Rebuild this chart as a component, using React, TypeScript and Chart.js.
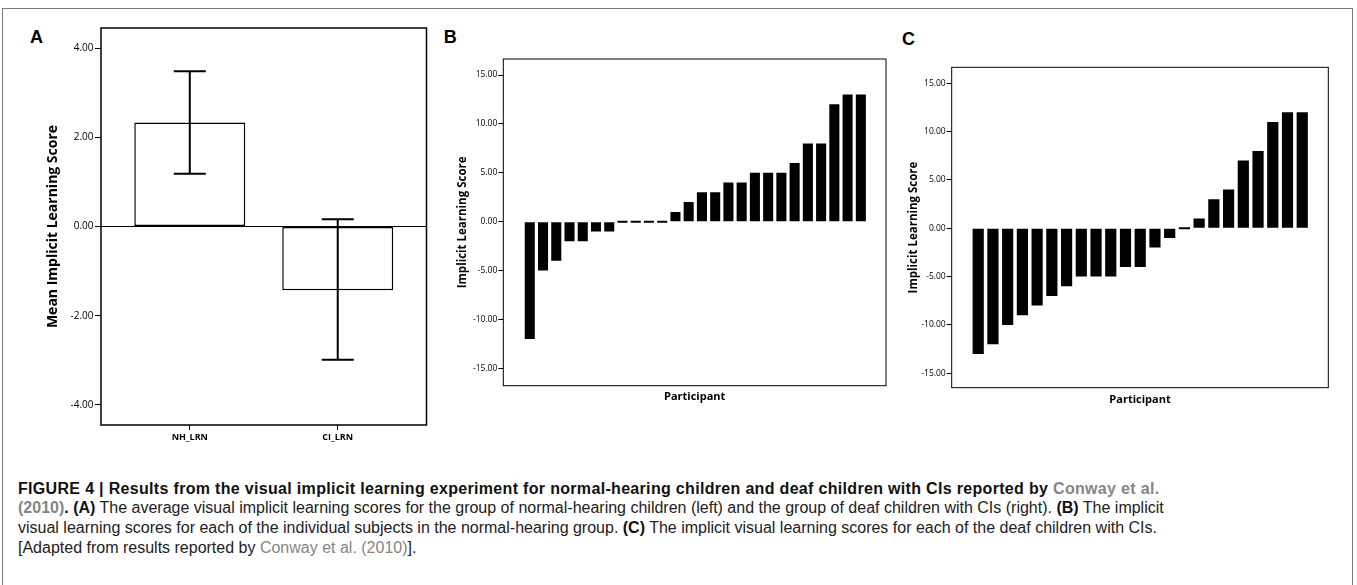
import React, { useEffect, useRef } from "react";
import { Chart, registerables } from "chart.js";

Chart.register(...registerables);

// ---------- Data ----------
const groupLabels = ["NH_LRN", "CI_LRN"];
const groupMeans = [2.33, -1.43];
const groupErrLow = [1.18, -2.99];
const groupErrHigh = [3.48, 0.16];
const groupTicks = [-4, -2, 0, 2, 4];

const nhScores = [-12, -5, -4, -2, -2, -1, -1, 0, 0, 0, 0, 1, 2, 3, 3, 4, 4, 5, 5, 5, 6, 8, 8, 12, 13, 13];
const ciScores = [-13, -12, -10, -9, -8, -7, -6, -5, -5, -5, -4, -4, -2, -1, 0, 1, 3, 4, 7, 8, 11, 12, 12];
const participantTicks = [-15, -10, -5, 0, 5, 10, 15];

const FONT = "'Open Sans', 'DejaVu Sans', sans-serif";
Chart.defaults.font.family = FONT;
Chart.defaults.color = "#000";

const boxPlugin = {
  id: "box",
  afterDraw(chart: any, _args: any, opts: any) {
    const { ctx, chartArea: a } = chart;
    ctx.save();
    ctx.strokeStyle = "#000";
    ctx.lineWidth = opts.lineWidth ?? 1;
    ctx.strokeRect(a.left, a.top, a.right - a.left, a.bottom - a.top);
    ctx.restore();
  },
};

const errorBarPlugin = {
  id: "errbars",
  afterDatasetsDraw(chart: any) {
    const { ctx, chartArea: a } = chart;
    const y = chart.scales.y;
    const y0 = y.getPixelForValue(0);
    ctx.save();
    ctx.strokeStyle = "#000";
    ctx.lineWidth = 1.2;
    ctx.beginPath();
    ctx.moveTo(a.left, y0);
    ctx.lineTo(a.right, y0);
    ctx.stroke();
    const meta = chart.getDatasetMeta(0);
    meta.data.forEach((bar: any, i: number) => {
      const x = bar.x;
      const yh = y.getPixelForValue(groupErrHigh[i]);
      const yl = y.getPixelForValue(groupErrLow[i]);
      ctx.lineWidth = 2;
      ctx.beginPath();
      ctx.moveTo(x, yh);
      ctx.lineTo(x, yl);
      ctx.moveTo(x - 16, yh);
      ctx.lineTo(x + 16, yh);
      ctx.moveTo(x - 16, yl);
      ctx.lineTo(x + 16, yl);
      ctx.stroke();
    });
    ctx.restore();
  },
};

function makeGroupConfig(): any {
  return {
    type: "bar",
    data: {
      datasets: [
        {
          data: groupMeans.map((v, i) => ({ x: i, y: v })),
          backgroundColor: "#fff",
          borderColor: "#000",
          borderWidth: 1.5,
          borderSkipped: false,
          barPercentage: 0.75,
          categoryPercentage: 1,
        },
      ],
    },
    options: {
      responsive: false,
      animation: false,
      devicePixelRatio: 1,
      layout: { padding: { top: 8, right: 13.5, left: 0, bottom: 0 } },
      plugins: { legend: { display: false }, tooltip: { enabled: false }, box: { lineWidth: 1.5 } },
      scales: {
        x: {
          type: "linear",
          offset: false,
          min: -0.6,
          max: 1.6,
          afterBuildTicks: (s: any) => {
            s.ticks = groupLabels.map((_, i) => ({ value: i }));
          },
          ticks: {
            callback: (v: any) => groupLabels[v] ?? "",
            font: { size: 9, weight: "bold" },
            color: "#000",
            padding: 2,
            maxRotation: 0,
            autoSkip: false,
          },
          grid: { drawOnChartArea: false, drawTicks: true, tickLength: 5, color: "#000", offset: false },
          border: { display: false },
          afterFit: (s: any) => {
            s.height = 35;
          },
        },
        y: {
          min: -4.45,
          max: 4.45,
          afterBuildTicks: (s: any) => {
            s.ticks = groupTicks.map((v) => ({ value: v }));
          },
          ticks: {
            callback: (v: any) => Number(v).toFixed(2),
            font: { size: 10 },
            color: "#000",
            padding: 1.5,
          },
          title: {
            display: true,
            text: "Mean Implicit Learning Score",
            font: { size: 14, weight: "bold" },
            color: "#000",
            padding: { top: 4.9, bottom: 0 },
          },
          grid: { drawOnChartArea: false, drawTicks: true, tickLength: 6, color: "#000" },
          border: { display: false },
          afterFit: (s: any) => {
            s.width = 61;
          },
        },
      },
    },
    plugins: [boxPlugin, errorBarPlugin],
  };
}

function makeParticipantConfig(
  scores: number[],
  p: { xmin: number; xmax: number; ymin: number; ymax: number; padTop: number; padRight: number; yWidth: number; xHeight: number; yTitlePad: number; xTitlePad: number }
): any {
  return {
    type: "bar",
    data: {
      datasets: [
        {
          data: scores.map((v, i) => ({ x: i, y: v })),
          backgroundColor: "#000",
          borderWidth: 0,
          barPercentage: 0.76,
          categoryPercentage: 1,
          minBarLength: 2,
        },
      ],
    },
    options: {
      responsive: false,
      animation: false,
      devicePixelRatio: 1,
      layout: { padding: { top: p.padTop, right: p.padRight, left: 0, bottom: 0 } },
      plugins: { legend: { display: false }, tooltip: { enabled: false }, box: { lineWidth: 1 } },
      scales: {
        x: {
          type: "linear",
          offset: false,
          min: p.xmin,
          max: p.xmax,
          ticks: { display: false },
          grid: { display: false },
          border: { display: false },
          title: {
            display: true,
            text: "Participant",
            font: { size: 11, weight: "bold" },
            color: "#000",
            padding: { top: 0, bottom: p.xTitlePad },
          },
          afterFit: (s: any) => {
            s.height = p.xHeight;
          },
        },
        y: {
          min: p.ymin,
          max: p.ymax,
          afterBuildTicks: (s: any) => {
            s.ticks = participantTicks.map((v) => ({ value: v }));
          },
          ticks: {
            callback: (v: any) => Number(v).toFixed(2),
            font: { size: 8.5 },
            color: "#000",
            padding: 1,
          },
          title: {
            display: true,
            text: "Implicit Learning Score",
            font: { size: 11.5, weight: "bold" },
            color: "#000",
            padding: { top: p.yTitlePad, bottom: 0 },
          },
          grid: { drawOnChartArea: false, drawTicks: true, tickLength: 5, color: "#000" },
          border: { display: false },
          afterFit: (s: any) => {
            s.width = p.yWidth;
          },
        },
      },
    },
    plugins: [boxPlugin],
  };
}

function ChartBox(props: { left: number; top: number; width: number; height: number; makeConfig: () => any }) {
  const ref = useRef<HTMLCanvasElement>(null);
  useEffect(() => {
    const chart = new Chart(ref.current as HTMLCanvasElement, props.makeConfig());
    return () => chart.destroy();
  }, []);
  return (
    <canvas
      ref={ref}
      width={props.width}
      height={props.height}
      style={{ position: "absolute", left: props.left, top: props.top, width: props.width, height: props.height, display: "block" }}
    />
  );
}

const panelLabel = (text: string, left: number, top: number) => (
  <div
    style={{
      position: "absolute",
      left,
      top,
      fontFamily: "'Liberation Sans', Arial, sans-serif",
      fontWeight: "bold",
      fontSize: 18,
      lineHeight: "18px",
      color: "#000",
    }}
  >
    {text}
  </div>
);

const GRAY = "#858585";
const DARK = "#222";
const boldLine = { letterSpacing: "0.32px" };

export default function App() {
  return (
    <div style={{ position: "absolute", left: 0, top: 0, width: 1357, height: 585, overflow: "hidden", background: "#fff" }}>
      <div
        style={{
          position: "absolute",
          left: 2,
          top: 7.5,
          width: 1349,
          height: 640,
          borderLeft: "1.5px solid #7a7a7a",
          borderRight: "1.5px solid #7a7a7a",
          borderTop: "1.5px solid #7a7a7a",
        }}
      />
      {panelLabel("A", 30, 27.7)}
      {panelLabel("B", 443.7, 27.7)}
      {panelLabel("C", 902, 29.6)}
      <ChartBox left={40} top={20} width={400} height={440} makeConfig={makeGroupConfig} />
      <ChartBox
        left={430}
        top={40}
        width={465}
        height={375}
        makeConfig={() =>
          makeParticipantConfig(nhScores, {
            xmin: -2,
            xmax: 26.9,
            ymin: -16.78,
            ymax: 16.64,
            padTop: 19,
            padRight: 9,
            yWidth: 73.3,
            xHeight: 29.3,
            yTitlePad: 25.4,
            xTitlePad: 11.4,
          })
        }
      />
      <ChartBox
        left={880}
        top={40}
        width={470}
        height={375}
        makeConfig={() =>
          makeParticipantConfig(ciScores, {
            xmin: -1.8,
            xmax: 23.77,
            ymin: -16.49,
            ymax: 16.65,
            padTop: 27.3,
            padRight: 21.7,
            yWidth: 71.7,
            xHeight: 27.3,
            yTitlePad: 26.4,
            xTitlePad: 8.4,
          })
        }
      />
      <div
        style={{
          position: "absolute",
          left: 18,
          top: 478.5,
          fontFamily: "'Liberation Sans', Arial, sans-serif",
          fontSize: 16,
          lineHeight: "19.7px",
          color: DARK,
          whiteSpace: "nowrap",
        }}
      >
        <div style={boldLine}>
          <b style={{ color: "#111" }}>
            FIGURE 4 | Results from the visual implicit learning experiment for normal-hearing children and deaf children with CIs reported by{" "}
          </b>
          <b style={{ color: GRAY }}>Conway et al.</b>
        </div>
        <div>
          <b style={{ color: GRAY }}>(2010)</b>
          <b style={{ color: "#111" }}>. (A)</b> The average visual implicit learning scores for the group of normal-hearing children (left) and the
          group of deaf children with CIs (right). <b style={{ color: "#111" }}>(B)</b> The implicit
        </div>
        <div>
          visual learning scores for each of the individual subjects in the normal-hearing group. <b style={{ color: "#111" }}>(C)</b> The implicit
          visual learning scores for each of the deaf children with CIs.
        </div>
        <div>
          [Adapted from results reported by <span style={{ color: GRAY }}>Conway et al. (2010)</span>].
        </div>
      </div>
    </div>
  );
}
